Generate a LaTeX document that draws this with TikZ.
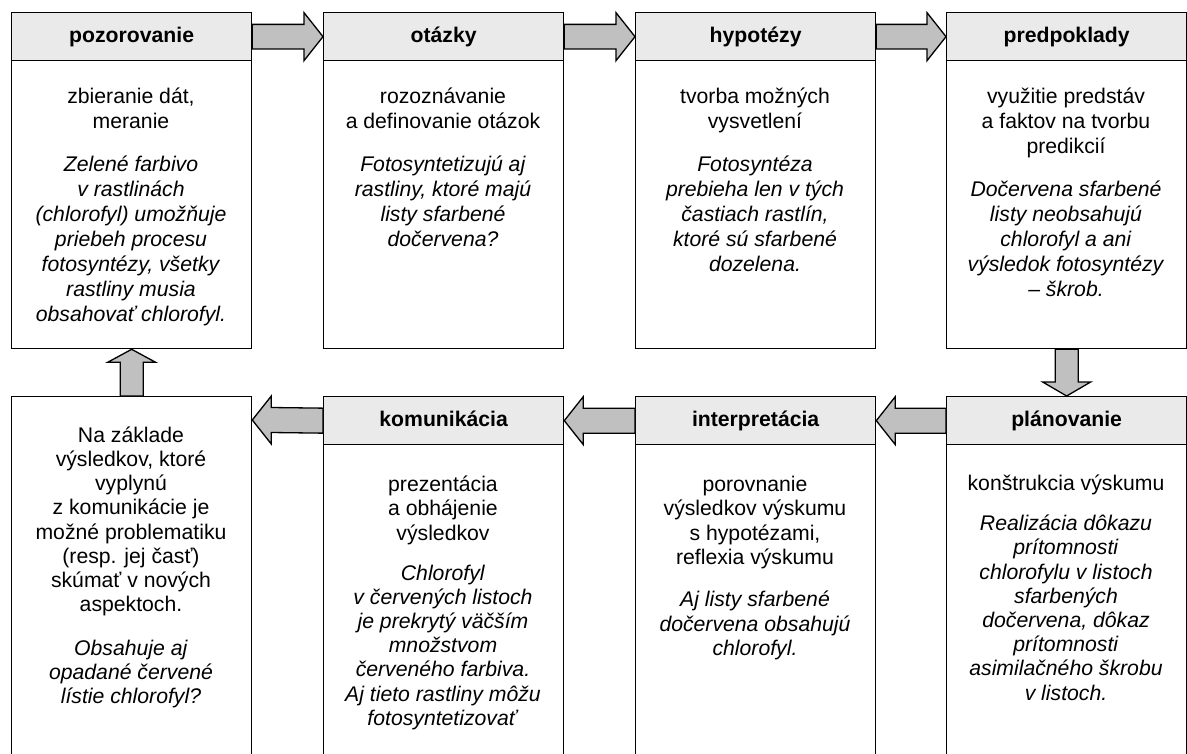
\documentclass[tikz,border=0pt]{standalone}
\usepackage{fontspec}
\setmainfont{Liberation Sans}
\usetikzlibrary{calc}
\definecolor{hdrgray}{HTML}{EAEAEA}
\definecolor{arrgray}{HTML}{C0C0C0}
\begin{document}
\begin{tikzpicture}[x=1pt,y=-1pt,
  line width=1.3pt,
  hdr/.style={draw, fill=hdrgray, minimum width=240pt, minimum height=48pt, inner sep=0pt, anchor=north west,
    font=\fontsize{21.2}{25}\selectfont\bfseries, text height=16pt, text depth=3.4pt},
  bodybox/.style={draw, fill=white, minimum width=240pt, inner sep=0pt, anchor=north west},
  bodytext/.style={anchor=north, align=center, inner sep=0pt, font=\fontsize{21.2}{25}\selectfont},
  bodytextlow/.style={bodytext, font=\fontsize{21.2}{24.2}\selectfont},
  blockarr/.style={draw, fill=arrgray, line join=miter}]
\useasboundingbox (0,0) rectangle (1187,753);
\clip (0,0) rectangle (1187,753);

% ---- top row ----
\node[bodybox, minimum height=288pt] (b1) at (11,60) {};
\node[hdr] (h1) at (11,12) {pozorovanie};
\node[bodybox, minimum height=288pt] (b2) at (323,60) {};
\node[hdr] (h2) at (323,12) {otázky};
\node[bodybox, minimum height=288pt] (b3) at (635,60) {};
\node[hdr] (h3) at (635,12) {hypotézy};
\node[bodybox, minimum height=288pt] (b4) at (946,60) {};
\node[hdr] (h4) at (946,12) {predpoklady};

% ---- bottom row ----
\node[bodybox, minimum height=380pt] (b5) at (11,396) {};
\node[bodybox, minimum height=330pt] (b6) at (323,444) {};
\node[hdr] (h6) at (323,396) {komunikácia};
\node[bodybox, minimum height=330pt] (b7) at (635,444) {};
\node[hdr] (h7) at (635,396) {interpretácia};
\node[bodybox, minimum height=330pt] (b8) at (946,444) {};
\node[hdr] (h8) at (946,396) {plánovanie};
\coordinate (c5) at ($(b5.north east)+(0,24)$);

% ---- texts ----
\node[bodytext] (t1) at (131,86) {\rule{0pt}{17pt}zbieranie dát,\\ meranie\\[18pt]
  \textit{Zelené farbivo}\\ \textit{v rastlinách}\\ \textit{(chlorofyl) umožňuje}\\ \textit{priebeh procesu}\\
  \textit{fotosyntézy, všetky}\\ \textit{rastliny musia}\\ \textit{obsahovať chlorofyl.}};
\node[bodytext] (t2) at (443,86) {\rule{0pt}{17pt}rozoznávanie\\ a definovanie otázok\\[18pt]
  \textit{Fotosyntetizujú aj}\\ \textit{rastliny, ktoré majú}\\ \textit{listy sfarbené}\\ \textit{dočervena?}};
\node[bodytext] (t3) at (755,86) {\rule{0pt}{17pt}tvorba možných\\ vysvetlení\\[18pt]
  \textit{Fotosyntéza}\\ \textit{prebieha len v tých}\\ \textit{častiach rastlín,}\\ \textit{ktoré sú sfarbené}\\ \textit{dozelena.}};
\node[bodytext] (t4) at (1066,86) {\rule{0pt}{17pt}využitie predstáv\\ a faktov na tvorbu\\ predikcií\\[18pt]
  \textit{Dočervena sfarbené}\\ \textit{listy neobsahujú}\\ \textit{chlorofyl a ani}\\ \textit{výsledok fotosyntézy}\\ \textit{– škrob.}};
\node[bodytextlow] (t5) at (131,424.7) {\rule{0pt}{17pt}Na základe\\ výsledkov, ktoré\\ vyplynú\\ z komunikácie je\\ možné problematiku\\
  (resp. jej časť)\\ skúmať v nových\\ aspektoch.\\[19.5pt]
  \textit{Obsahuje aj}\\ \textit{opadané červené}\\ \textit{lístie chlorofyl?}};
\node[bodytextlow] (t6) at (443,474) {\rule{0pt}{17pt}prezentácia\\ a obhájenie\\ výsledkov\\[15.8pt]
  \textit{Chlorofyl}\\ \textit{v červených listoch}\\ \textit{je prekrytý väčším}\\ \textit{množstvom}\\
  \textit{červeného farbiva.}\\ \textit{Aj tieto rastliny môžu}\\ \textit{fotosyntetizovať}};
\node[bodytextlow] (t7) at (755,474) {\rule{0pt}{17pt}porovnanie\\ výsledkov výskumu\\ s hypotézami,\\ reflexia výskumu\\[18.5pt]
  \textit{Aj listy sfarbené}\\ \textit{dočervena obsahujú}\\ \textit{chlorofyl.}};
\node[bodytextlow] (t8) at (1066,473) {\rule{0pt}{17pt}konštrukcia výskumu\\[15.8pt]
  \textit{Realizácia dôkazu}\\ \textit{prítomnosti}\\ \textit{chlorofylu v listoch}\\ \textit{sfarbených}\\
  \textit{dočervena, dôkaz}\\ \textit{prítomnosti}\\ \textit{asimilačného škrobu}\\ \textit{v listoch.}};

% ---- arrows, top row (right) ----
\foreach \a/\b in {h1/h2, h2/h3, h3/h4}{
  \draw[blockarr] ($(\a.east)+(0,-12.3)$) -- ($(\b.west)+(-19,-12.3)$) -- ($(\b.west)+(-19,-24)$) -- (\b.west)
    -- ($(\b.west)+(-19,24)$) -- ($(\b.west)+(-19,12.3)$) -- ($(\a.east)+(0,12.3)$) -- cycle;
}
% ---- down arrow ----
\draw[blockarr] ($(b4.south)+(-11.5,0)$) -- ($(h8.north)+(-11.5,-14)$) -- ($(h8.north)+(-24,-14)$) -- (h8.north)
  -- ($(h8.north)+(24,-14)$) -- ($(h8.north)+(11.5,-14)$) -- ($(b4.south)+(11.5,0)$) -- cycle;
% ---- arrows, bottom row (left) ----
\foreach \a/\b in {h8/h7, h7/h6}{
  \draw[blockarr] ($(\a.west)+(0,-12.5)$) -- ($(\b.east)+(19,-12.5)$) -- ($(\b.east)+(19,-24)$) -- (\b.east)
    -- ($(\b.east)+(19,24)$) -- ($(\b.east)+(19,12.5)$) -- ($(\a.west)+(0,12.5)$) -- cycle;
}
\draw[blockarr] ($(h6.west)+(0,-12.5)$) -- ($(c5)+(19,-12.5)$) -- ($(c5)+(19,-24)$) -- (c5)
  -- ($(c5)+(19,24)$) -- ($(c5)+(19,12.5)$) -- ($(h6.west)+(0,12.5)$) -- cycle;
% ---- up arrow ----
\draw[blockarr] ($(b5.north)+(-11.5,0)$) -- ($(b1.south)+(-11.5,13)$) -- ($(b1.south)+(-24,13)$) -- (b1.south)
  -- ($(b1.south)+(24,13)$) -- ($(b1.south)+(11.5,13)$) -- ($(b5.north)+(11.5,0)$) -- cycle;
\end{tikzpicture}
\end{document}
